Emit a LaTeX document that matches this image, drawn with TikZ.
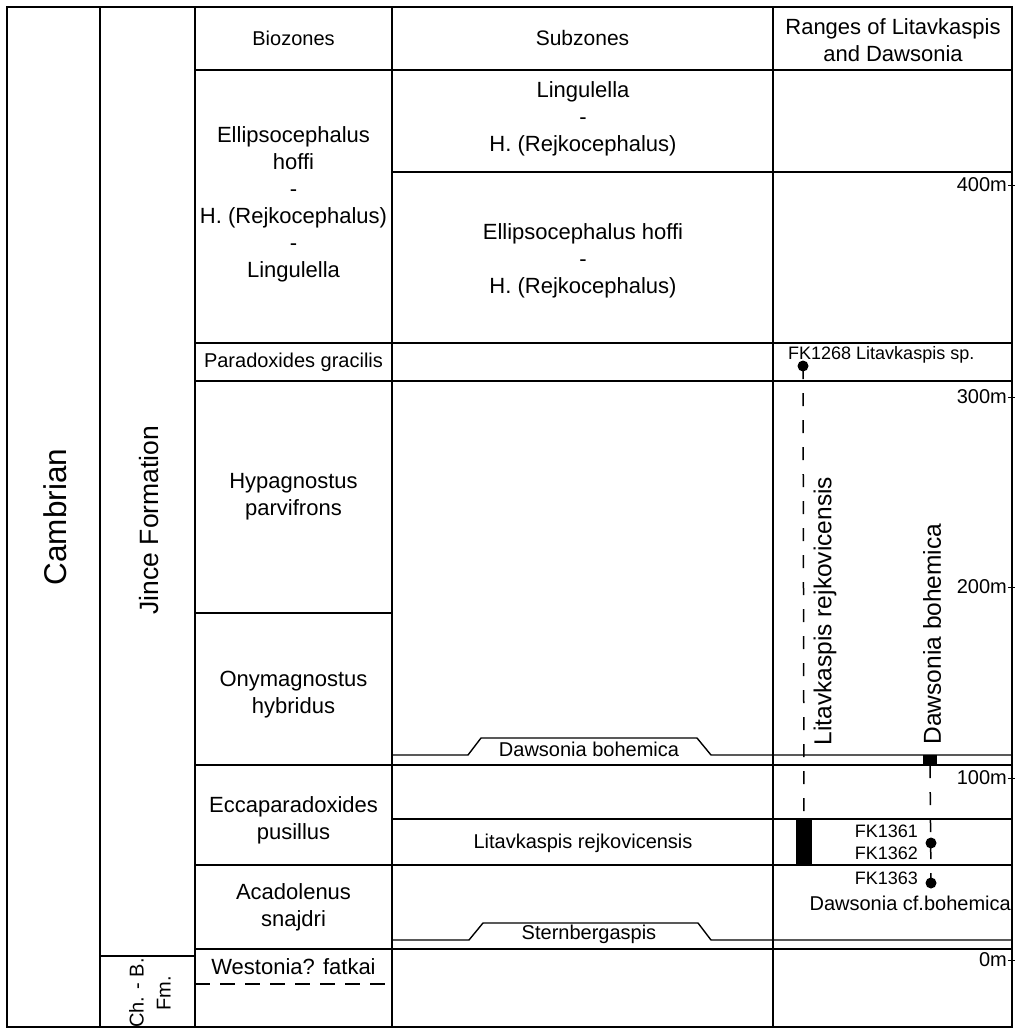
\documentclass[tikz,border=0pt]{standalone}
\usepackage{fontspec}
\setmainfont{Liberation Sans}
\usetikzlibrary{positioning, calc}
\tikzset{
  gridline/.style={line width=1.8pt, line cap=rect}, % table frame and rules
  bracketline/.style={line width=1.4pt}, % subzone boundary with raised label
  rangeline/.style={line width=1.5pt, dash pattern=on 13pt off 14pt}, % stratigraphic range
  zone/.style={font=\fontsize{22}{27}\selectfont, align=center, inner sep=0pt}, % biozone names
  smallzone/.style={font=\fontsize{20}{25}\selectfont, align=center, inner sep=0pt},
  vlabel/.style={font=\fontsize{24.5}{28}\selectfont, rotate=90, inner sep=0pt}, % taxon along range
  fk/.style={font=\fontsize{18}{22}\selectfont, inner sep=0pt}, % sample numbers
  fossil/.style={circle, fill=black, inner sep=0pt, minimum size=11pt}, % find
  rangebar/.style={fill=black, inner sep=0pt}, % proven range
}
\begin{document}
\begin{tikzpicture}[x=1pt, y=-1pt]
  \useasboundingbox (0,0) rectangle (1015,1028);
  % frame and columns
  \draw[gridline] (7,7) rectangle (1012,1027);
  \foreach \x in {100,195,392,773}
    \draw[gridline] (\x,7) -- (\x,1027);
  % rules across the zone columns
  \draw[gridline] (195,70) -- (1012,70);
  \draw[gridline] (392,172) -- (1012,172);
  \foreach \y in {343,381,765,865,949}
    \draw[gridline] (195,\y) -- (1012,\y);
  \draw[gridline] (195,613) -- (392,613);
  \draw[gridline] (392,819) -- (1012,819);
  \draw[gridline] (100,956) -- (195,956);
  \draw[line width=1.3pt, dash pattern=on 15pt off 10pt] (195,984) -- (392,984);
  % boundaries with raised labels
  \draw[bracketline] (392,755) -- (468,755) -- (481,738) -- (697,738) -- (711,755) -- (1012,755);
  \draw[bracketline] (392,940) -- (469,940) -- (483,923) -- (698,923) -- (711,940) -- (1012,940);
  % scale ticks
  \foreach \y/\m in {185/400m,397/300m,587/200m,778/100m,960/0m}{
    \node[smallzone, anchor=east] (m\y) at (1007,\y) {\m};
    \draw[line width=1pt] (1008,\y) -- (1015,\y);
  }

  % headers
  \node[smallzone] (biohead) at (293.5,38) {Biozones};
  \node[smallzone, font=\fontsize{21}{25}\selectfont] (subhead) at (582.5,38) {Subzones};
  \node[zone] (rnghead) at (893,40) {Ranges of Litavkaspis\\and Dawsonia};

  % system and formations
  \node[font=\fontsize{31.5}{36}\selectfont, rotate=90, inner sep=0pt] (cambrian) at (55,517) {Cambrian};
  \node[font=\fontsize{26.5}{30}\selectfont, rotate=90, inner sep=0pt] (jince) at (149,520) {Jince Formation};
  \node[smallzone, rotate=90, font=\fontsize{20}{27}\selectfont] (chb) at (150,993) {Ch. - B.\\Fm.};

  % biozones
  \node[zone] (hoffi) at (293.5,204) {Ellipsocephalus\\hoffi\\-\\H. (Rejkocephalus)\\-\\Lingulella};
  \node[smallzone] (gracilis) at (293.5,362) {Paradoxides gracilis};
  \node[zone] (parvifrons) at (293.5,497) {Hypagnostus\\parvifrons};
  \node[zone] (hybridus) at (293.5,695) {Onymagnostus\\hybridus};
  \node[zone] (pusillus) at (293.5,820) {Eccaparadoxides\\pusillus};
  \node[zone] (snajdri) at (293.5,907) {Acadolenus\\snajdri};
  \node[zone] (fatkai) at (293.5,967) {Westonia? fatkai};

  % subzones
  \node[zone] (lingulella) at (583,119) {Lingulella\\-\\H. (Rejkocephalus)};
  \node[zone] (hoffisub) at (583,261) {Ellipsocephalus hoffi\\-\\H. (Rejkocephalus)};
  \node[smallzone] (dawsub) at (589,749) {Dawsonia bohemica};
  \node[smallzone] (litsub) at (583,843) {Litavkaspis rejkovicensis};
  \node[smallzone] (sternb) at (589,934) {Sternbergaspis};

  % ranges of Litavkaspis
  \node[fossil] (fk1268) at (803,366) {};
  \node[fk, anchor=base west] (fk1268lbl) at (788,359) {FK1268 Litavkaspis sp.};
  \node[rangebar, minimum width=16pt, minimum height=46pt] (litbar) at (804,842.5) {};
  \draw[rangeline] (fk1268.center) -- (litbar.north);
  \node[vlabel] (litname) at (825,611) {Litavkaspis rejkovicensis};

  % ranges of Dawsonia
  \node[rangebar, minimum width=14pt, minimum height=10pt] (dawbar) at (930,760) {};
  \node[fossil] (fk1362) at (931,843) {};
  \node[fossil] (fk1363) at (931,883) {};
  \draw[rangeline] (dawbar.south) -- (fk1363.center);
  \node[vlabel] (dawname) at (932,634) {Dawsonia bohemica};
  \node[fk, anchor=east] (fk1361lbl) at (918,831) {FK1361};
  \node[fk, anchor=east] (fk1362lbl) at (918,853) {FK1362};
  \node[fk, anchor=east] (fk1363lbl) at (918,878) {FK1363};
  \node[smallzone, anchor=east] (cfboh) at (1011,903) {Dawsonia cf.bohemica};
\end{tikzpicture}
\end{document}
